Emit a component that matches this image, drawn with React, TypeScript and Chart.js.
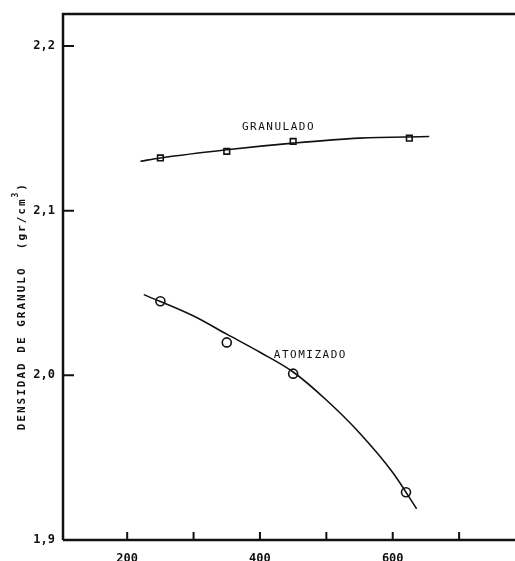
import React, { useEffect, useRef } from "react";
import { Chart, registerables } from "chart.js";

Chart.register(...registerables);

const xTicks = [200, 300, 400, 500, 600, 700];
const xTickLabels = ["200", "", "400", "", "600", ""];
const yTicks = [1.9, 2.0, 2.1, 2.2];
const yTickLabels = ["1,9", "2,0", "2,1", "2,2"];

const granX = [250, 350, 450, 625];
const granY = [2.132, 2.136, 2.142, 2.144];
const granCurveX = [220, 250, 350, 450, 550, 655];
const granCurveY = [2.13, 2.132, 2.137, 2.141, 2.144, 2.145];

const atomX = [250, 350, 450, 620];
const atomY = [2.045, 2.02, 2.001, 1.929];
const atomCurveX = [225, 300, 350, 400, 450, 500, 550, 600, 636];
const atomCurveY = [2.049, 2.036, 2.025, 2.014, 2.002, 1.985, 1.965, 1.941, 1.919];

const seriesLabels = [
  { text: "GRANULADO", x: 428, y: 2.151 },
  { text: "ATOMIZADO", x: 476, y: 2.012 },
];

const FONT = "'DejaVu Sans Mono', monospace";
const INK = "#111";

const zip = (xs: number[], ys: number[]) => xs.map((x, i) => ({ x, y: ys[i] }));

const decorPlugin = {
  id: "decor",
  afterDraw(chart: any) {
    const { ctx, chartArea, scales } = chart;
    const xs = scales.x;
    const ys = scales.y;
    ctx.save();
    ctx.strokeStyle = INK;
    ctx.lineCap = "butt";
    ctx.lineWidth = 2.5;
    ctx.beginPath();
    ctx.moveTo(chartArea.left, chartArea.bottom);
    ctx.lineTo(chartArea.left, chartArea.top);
    ctx.lineTo(chart.width, chartArea.top);
    ctx.moveTo(chartArea.left, chartArea.bottom);
    ctx.lineTo(chart.width, chartArea.bottom);
    ctx.stroke();
    ctx.lineWidth = 2;
    ctx.beginPath();
    xTicks.forEach((v) => {
      const px = xs.getPixelForValue(v);
      ctx.moveTo(px, chartArea.bottom);
      ctx.lineTo(px, chartArea.bottom - 8);
    });
    yTicks.forEach((v) => {
      const py = ys.getPixelForValue(v);
      ctx.moveTo(chartArea.left, py);
      ctx.lineTo(chartArea.left + 11, py);
    });
    ctx.stroke();
    ctx.fillStyle = INK;
    ctx.font = `11px ${FONT}`;
    ctx.textAlign = "center";
    ctx.textBaseline = "middle";
    (ctx as any).letterSpacing = "1.5px";
    seriesLabels.forEach((l) => {
      ctx.fillText(l.text, xs.getPixelForValue(l.x), ys.getPixelForValue(l.y));
    });
    const cy = ys.getPixelForValue(2.042);
    ctx.translate(22, cy);
    ctx.rotate(-Math.PI / 2);
    ctx.font = `bold 11px ${FONT}`;
    (ctx as any).letterSpacing = "2px";
    const main = "DENSIDAD DE GRANULO  (gr/cm";
    const sup = "3";
    const tail = ")";
    ctx.textAlign = "left";
    const wMain = ctx.measureText(main).width;
    ctx.font = `bold 8px ${FONT}`;
    const wSup = ctx.measureText(sup).width;
    ctx.font = `bold 11px ${FONT}`;
    const wTail = ctx.measureText(tail).width;
    const total = wMain + wSup + wTail;
    let x0 = -total / 2;
    ctx.fillText(main, x0, 0);
    x0 += wMain;
    ctx.font = `bold 8px ${FONT}`;
    ctx.fillText(sup, x0, -6);
    x0 += wSup;
    ctx.font = `bold 11px ${FONT}`;
    ctx.fillText(tail, x0, 0);
    ctx.restore();
  },
};

export default function App() {
  const ref = useRef<HTMLCanvasElement | null>(null);
  useEffect(() => {
    document.body.style.margin = "0";
    document.body.style.background = "#fff";
    if (!ref.current) return;
    const chart = new Chart(ref.current, {
      type: "scatter",
      data: {
        datasets: [
          {
            label: "granCurve",
            data: zip(granCurveX, granCurveY),
            showLine: true,
            pointRadius: 0,
            borderColor: INK,
            borderWidth: 1.6,
            cubicInterpolationMode: "monotone",
          },
          {
            label: "atomCurve",
            data: zip(atomCurveX, atomCurveY),
            showLine: true,
            pointRadius: 0,
            borderColor: INK,
            borderWidth: 1.6,
            cubicInterpolationMode: "monotone",
          },
          {
            label: "GRANULADO",
            data: zip(granX, granY),
            showLine: false,
            pointStyle: "rect",
            pointRadius: 4,
            pointBackgroundColor: "#fff",
            pointBorderColor: INK,
            pointBorderWidth: 1.6,
          },
          {
            label: "ATOMIZADO",
            data: zip(atomX, atomY),
            showLine: false,
            pointStyle: "circle",
            pointRadius: 4.5,
            pointBackgroundColor: "#fff",
            pointBorderColor: INK,
            pointBorderWidth: 1.6,
          },
        ],
      } as any,
      options: {
        animation: false,
        responsive: false,
        events: [],
        layout: { padding: { top: 14, left: 0, right: 0, bottom: 0 } },
        plugins: { legend: { display: false }, tooltip: { enabled: false } },
        scales: {
          x: {
            type: "linear",
            min: 103.3,
            max: 775,
            grid: { display: false, drawTicks: false },
            border: { display: false },
            afterBuildTicks: (s: any) => {
              s.ticks = xTicks.map((v) => ({ value: v }));
            },
            afterFit: (s: any) => {
              s.height = 21;
              s.paddingLeft = 0;
              s.paddingRight = 0;
            },
            ticks: {
              padding: 12,
              maxRotation: 0,
              autoSkip: false,
              color: INK,
              font: { family: FONT, size: 12, weight: "bold" },
              callback: (v: any) => xTickLabels[xTicks.indexOf(Number(v))] ?? "",
            },
          },
          y: {
            type: "linear",
            min: 1.9,
            max: 2.2194,
            grid: { display: false, drawTicks: false },
            border: { display: false },
            afterBuildTicks: (s: any) => {
              s.ticks = yTicks.map((v) => ({ value: v }));
            },
            afterFit: (s: any) => {
              s.width = 63;
              s.paddingTop = 0;
              s.paddingBottom = 0;
            },
            ticks: {
              padding: 8,
              autoSkip: false,
              color: INK,
              font: { family: FONT, size: 12, weight: "bold" },
              callback: (v: any) => {
                const i = yTicks.findIndex((t) => Math.abs(t - Number(v)) < 1e-6);
                return i >= 0 ? yTickLabels[i] : "";
              },
            },
          },
        },
      } as any,
      plugins: [decorPlugin],
    });
    return () => chart.destroy();
  }, []);
  return (
    <div style={{ width: 515, height: 561 }}>
      <canvas ref={ref} width={515} height={561} style={{ display: "block" }} />
    </div>
  );
}
